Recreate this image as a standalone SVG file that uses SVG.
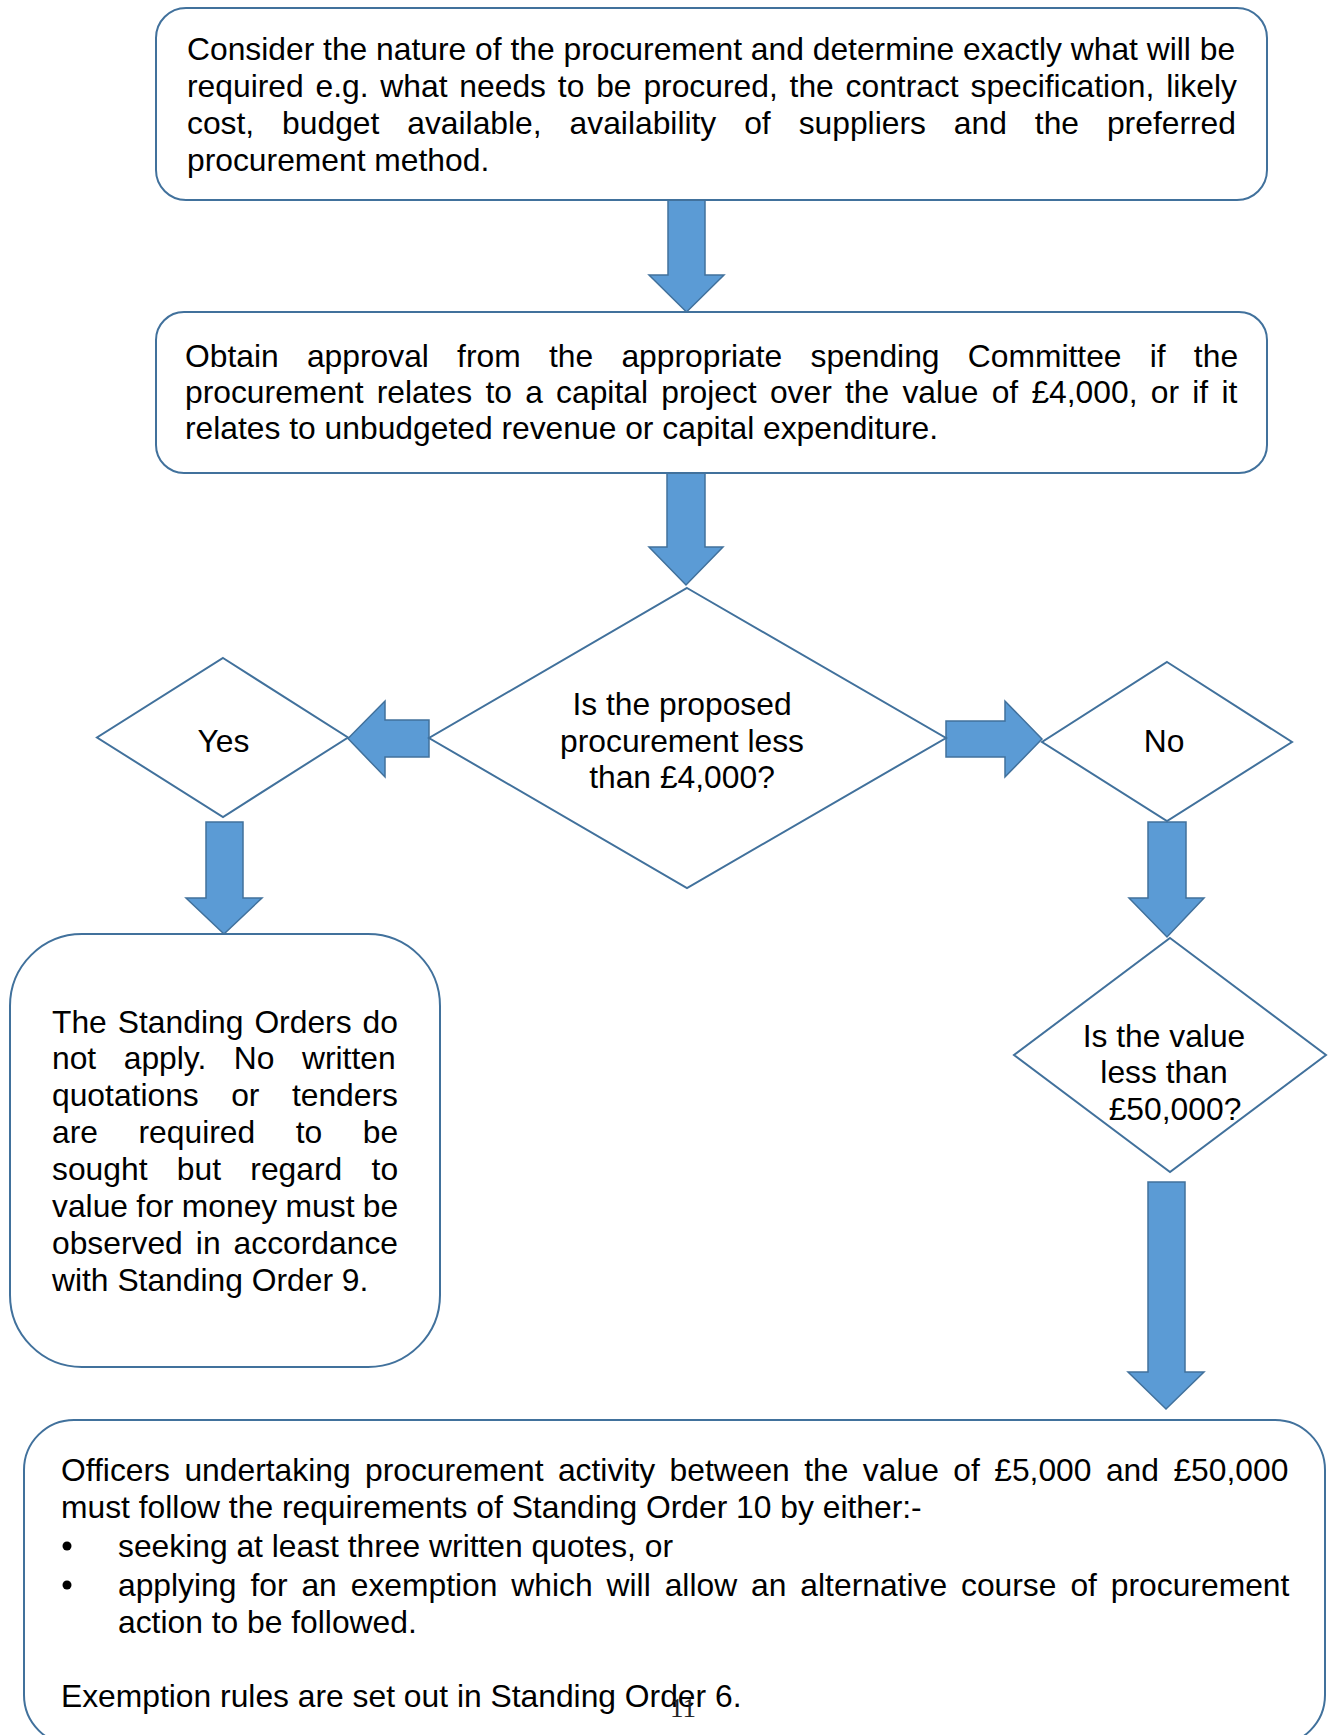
<svg xmlns="http://www.w3.org/2000/svg" width="1328" height="1735" viewBox="0 0 1328 1735">
<style>
.box{fill:#fff;stroke:#41719C;stroke-width:2}
.arr{fill:#5B9BD5;stroke:#41719C;stroke-width:1.5;stroke-linejoin:miter}
text{font-family:"Liberation Sans",Arial,sans-serif;font-size:31.8px;fill:#000}
.c{text-anchor:middle}
.pg{font-family:"Liberation Serif","Times New Roman",serif;font-size:27px;fill:#222}
</style>
<rect width="1328" height="1735" fill="#fff"/>
<g id="connectors">
<path class="arr" d="M668,200 L705,200 L705,275 L724,275 L686.5,312 L649,275 L668,275 Z"/>
<path class="arr" d="M667,473 L705,473 L705,547 L723,547 L686,585 L649,547 L667,547 Z"/>
<path class="arr" d="M429,720 L385,720 L385,701 L348,738.5 L385,777 L385,757 L429,757 Z"/>
<path class="arr" d="M946,721 L1005,721 L1005,701 L1042,739 L1005,777 L1005,757 L946,757 Z"/>
<path class="arr" d="M206,822 L243,822 L243,898 L262,898 L224,934 L186,898 L206,898 Z"/>
<path class="arr" d="M1148,822 L1186,822 L1186,898 L1204,898 L1167,937 L1129,898 L1148,898 Z"/>
<path class="arr" d="M1148,1182 L1185,1182 L1185,1372 L1204,1372 L1166,1409 L1128,1372 L1148,1372 Z"/>
</g>
<g id="n1">
<rect class="box" x="156" y="8" width="1111" height="192" rx="30"/>
<text x="187" y="60">Consider the nature of the procurement and determine exactly what will be</text>
<text x="187" y="97" word-spacing="3">required e.g. what needs to be procured, the contract specification, likely</text>
<text x="187" y="134" word-spacing="19.1">cost, budget available, availability of suppliers and the preferred</text>
<text x="187" y="171">procurement method.</text>
</g>
<g id="n2">
<rect class="box" x="156" y="312" width="1111" height="161" rx="28"/>
<text x="185" y="367" word-spacing="19.4">Obtain approval from the appropriate spending Committee if the</text>
<text x="185" y="403" word-spacing="4.4">procurement relates to a capital project over the value of £4,000, or if it</text>
<text x="185" y="439">relates to unbudgeted revenue or capital expenditure.</text>
</g>
<g id="n3">
<polygon class="box" points="687,588 946,738 687,888 429,738"/>
<text class="c" x="682" y="715">Is the proposed</text>
<text class="c" x="682" y="752">procurement less</text>
<text class="c" x="682" y="788">than £4,000?</text>
</g>
<g id="n4">
<polygon class="box" points="223,658 348,737.5 223,817 97,737.5"/>
<text class="c" x="223.5" y="752">Yes</text>
</g>
<g id="n5">
<polygon class="box" points="1167,662 1292,742 1167,821 1042,742"/>
<text class="c" x="1164" y="752">No</text>
</g>
<g id="n6">
<rect class="box" x="10" y="934" width="430" height="433" rx="72"/>
<text x="52" y="1032.5" word-spacing="2.2">The Standing Orders do</text>
<text x="52" y="1069.4" word-spacing="18.7">not apply. No written</text>
<text x="52" y="1106.2" word-spacing="23.6">quotations or tenders</text>
<text x="52" y="1143.1" word-spacing="31.7">are required to be</text>
<text x="52" y="1179.9" word-spacing="20.5">sought but regard to</text>
<text x="52" y="1216.8" word-spacing="-0.5">value for money must be</text>
<text x="52" y="1253.7" word-spacing="4.2">observed in accordance</text>
<text x="52" y="1290.5">with Standing Order 9.</text>
</g>
<g id="n7">
<polygon class="box" points="1170,938 1326,1055 1170,1172 1014,1055"/>
<text class="c" x="1164" y="1047">Is the value</text>
<text class="c" x="1164" y="1083">less than</text>
<text class="c" x="1175" y="1120">£50,000?</text>
</g>
<g id="n8">
<rect class="box" x="24" y="1420" width="1301" height="325" rx="50"/>
<text x="61" y="1481" word-spacing="5.6">Officers undertaking procurement activity between the value of £5,000 and £50,000</text>
<text x="61" y="1518">must follow the requirements of Standing Order 10 by either:-</text>
<circle cx="67" cy="1546" r="4.5" fill="#000"/>
<text x="118" y="1557">seeking at least three written quotes, or</text>
<circle cx="67" cy="1585" r="4.5" fill="#000"/>
<text x="118" y="1596" word-spacing="5.1">applying for an exemption which will allow an alternative course of procurement</text>
<text x="118" y="1633">action to be followed.</text>
<text x="61" y="1707">Exemption rules are set out in Standing Order 6.</text>
</g>
<text class="pg" x="670" y="1717">11</text>
</svg>
